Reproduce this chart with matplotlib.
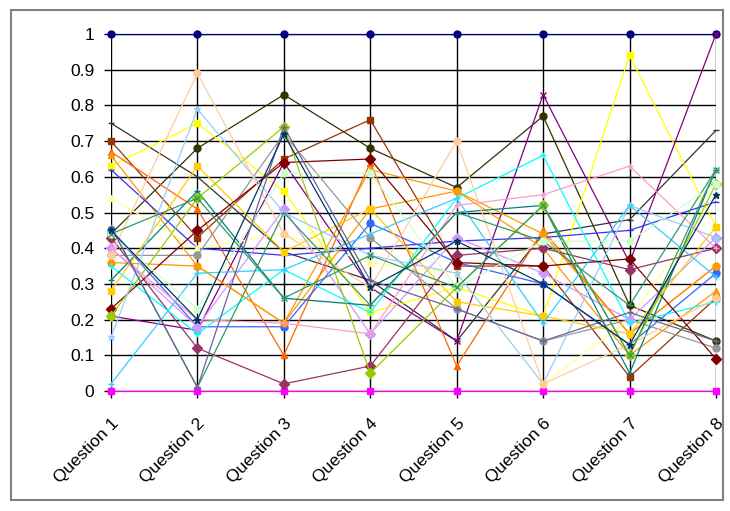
import matplotlib.pyplot as plt
from matplotlib.patches import Rectangle

plt.rcParams['font.family'] = ['Liberation Sans', 'DejaVu Sans']

questions = ['Question 1', 'Question 2', 'Question 3', 'Question 4',
             'Question 5', 'Question 6', 'Question 7', 'Question 8']
y_ticks = [0, 0.1, 0.2, 0.3, 0.4, 0.5, 0.6, 0.7, 0.8, 0.9, 1]
y_tick_labels = ['0', '0.1', '0.2', '0.3', '0.4', '0.5', '0.6', '0.7', '0.8', '0.9', '1']

# one list per respondent (approximate)
r01 = [1.00, 1.00, 1.00, 1.00, 1.00, 1.00, 1.00, 1.00]
r02 = [0.00, 0.00, 0.00, 0.00, 0.00, 0.00, 0.00, 0.00]
r03 = [0.75, 0.60, 0.39, 0.31, 0.14, 0.44, 0.48, 0.73]
r04 = [0.44, 0.68, 0.83, 0.68, 0.57, 0.77, 0.24, 0.14]
r05 = [0.63, 0.75, 0.56, 0.22, 0.29, 0.21, 0.94, 0.46]
r06 = [0.21, 0.17, 0.64, 0.29, 0.14, 0.83, 0.36, 1.00]
r07 = [0.70, 0.43, 0.65, 0.76, 0.35, 0.35, 0.04, 0.26]
r08 = [0.67, 0.51, 0.10, 0.64, 0.07, 0.45, 0.16, 0.35]
r09 = [0.66, 0.35, 0.19, 0.62, 0.56, 0.40, 0.10, 0.28]
r10 = [0.62, 0.40, 0.38, 0.40, 0.42, 0.43, 0.45, 0.53]
r11 = [0.54, 0.40, 0.44, 0.36, 0.33, 0.02, 0.20, 0.55]
r12 = [0.45, 0.18, 0.18, 0.47, 0.36, 0.30, 0.13, 0.33]
r13 = [0.38, 0.38, 0.72, 0.43, 0.23, 0.14, 0.20, 0.12]
r14 = [0.43, 0.12, 0.02, 0.07, 0.38, 0.40, 0.34, 0.40]
r15 = [0.40, 0.18, 0.51, 0.16, 0.43, 0.33, 0.20, 0.43]
r16 = [0.36, 0.35, 0.19, 0.51, 0.56, 0.44, 0.16, 0.35]
r17 = [0.35, 0.16, 0.34, 0.22, 0.54, 0.66, 0.19, 0.25]
r18 = [0.31, 0.56, 0.26, 0.24, 0.50, 0.52, 0.05, 0.62]
r19 = [0.28, 0.63, 0.39, 0.51, 0.25, 0.21, 0.16, 0.46]
r20 = [0.23, 0.45, 0.64, 0.65, 0.36, 0.35, 0.37, 0.09]
r21 = [0.21, 0.54, 0.74, 0.05, 0.29, 0.52, 0.10, 0.58]
r22 = [0.15, 0.79, 0.50, 0.38, 0.33, 0.02, 0.52, 0.43]
r23 = [0.02, 0.33, 0.34, 0.44, 0.54, 0.19, 0.52, 0.32]
r24 = [0.38, 0.89, 0.44, 0.29, 0.70, 0.02, 0.13, 0.26]
r25 = [0.40, 0.20, 0.19, 0.16, 0.52, 0.55, 0.63, 0.40]
r26 = [0.46, 0.01, 0.50, 0.24, 0.50, 0.42, 0.24, 0.62]
r27 = [0.44, 0.23, 0.61, 0.61, 0.29, 0.42, 0.42, 0.58]
r28 = [0.46, 0.01, 0.74, 0.31, 0.23, 0.14, 0.22, 0.14]
r29 = [0.44, 0.54, 0.26, 0.38, 0.29, 0.52, 0.10, 0.62]
r30 = [0.45, 0.20, 0.72, 0.29, 0.42, 0.30, 0.13, 0.55]

respondents = [r01, r02, r03, r04, r05, r06, r07, r08, r09, r10,
               r11, r12, r13, r14, r15, r16, r17, r18, r19, r20,
               r21, r22, r23, r24, r25, r26, r27, r28, r29, r30]

# excel 2003 style palette
colors = ['#000080', '#FF00FF', '#333333', '#333300', '#FFFF00', '#800080',
          '#993300', '#FF6600', '#FF9900', '#3333FF', '#FFFF99', '#3366FF',
          '#969696', '#993366', '#CC99FF', '#FF9900', '#00FFFF', '#008080',
          '#FFCC00', '#800000', '#99CC00', '#99CCFF', '#33CCFF', '#FFCC99',
          '#FF99CC', '#339966', '#CCFFCC', '#666699', '#339966', '#003366']
markers = ['o', 's', '_', 'o', 's', 'x', 's', '^', '^', '_', '^', 'o',
           'o', 'D', 'D', 'o', '+', '+', 's', 'D', 'D', '*', '+', 'o',
           '+', '_', 'o', '+', 'x', '*']

fig = plt.figure(figsize=(7.3, 5.11), dpi=100)
ax = fig.add_axes([0.152, 0.2348, 0.8288, 0.6986])

x = list(range(len(questions)))
for vals, c, m in zip(respondents, colors, markers):
    ax.plot(x, vals, color=c, lw=0.9, marker=m, markersize=5,
            markeredgewidth=1, clip_on=False, zorder=3)

ax.set_xlim(0, 7)
ax.set_ylim(0, 1)
ax.set_xticks(x)
ax.set_xticklabels(questions, rotation=45, ha='right', va='top',
                   rotation_mode='anchor', fontsize=12.5)
ax.set_yticks(y_ticks)
ax.set_yticklabels(y_tick_labels, fontsize=12.5)
ax.tick_params(axis='both', direction='out', length=5, width=1, color='black')
ax.tick_params(axis='x', pad=13)
ax.tick_params(axis='y', pad=7)
ax.grid(True, color='black', lw=1, zorder=1)
ax.set_axisbelow(True)
for s in ax.spines.values():
    s.set_visible(False)

fig.patches.append(Rectangle((0.015, 0.021), 0.975, 0.959, transform=fig.transFigure,
                             fill=False, edgecolor='#808080', lw=1.5))

fig.savefig('out.png', dpi=100)
